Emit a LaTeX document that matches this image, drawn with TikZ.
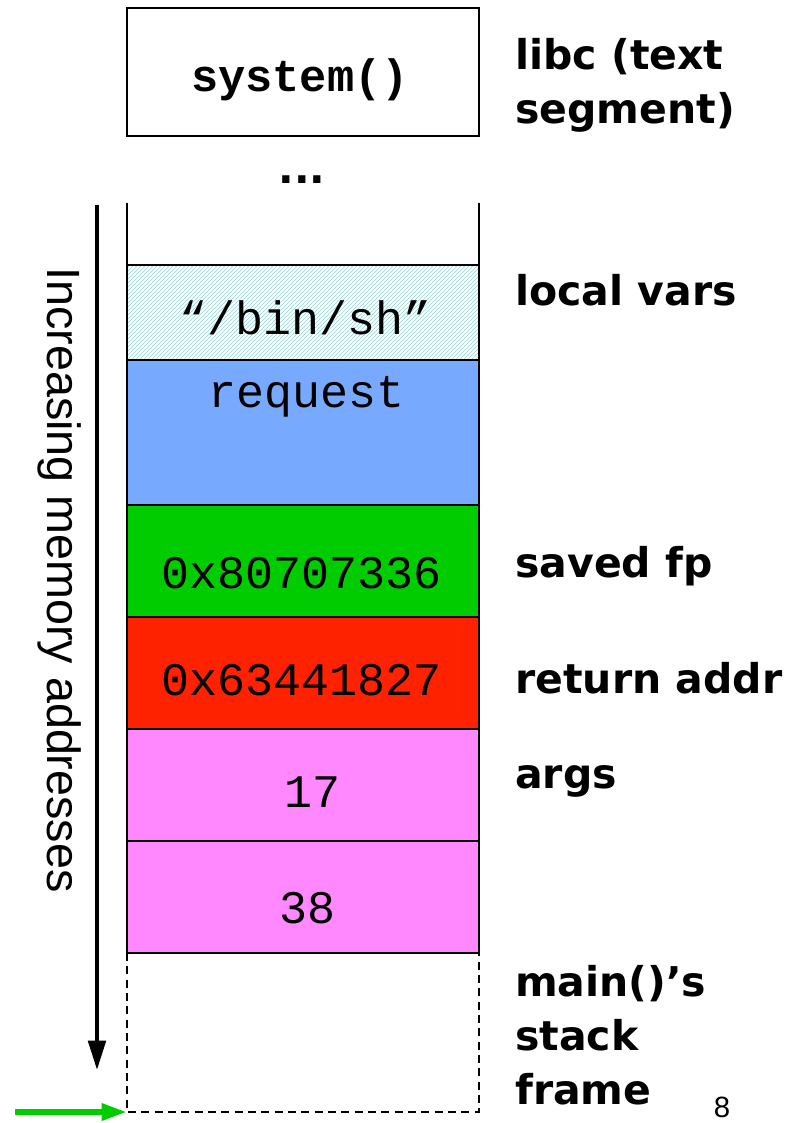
\documentclass[tikz,border=0pt]{standalone}
\usepackage{fontspec}
\setmainfont{Liberation Sans}
\setmonofont{Liberation Mono}
\newfontfamily\labfont{DejaVu Sans}
\usetikzlibrary{arrows.meta,patterns}
\definecolor{reqblue}{RGB}{119,170,255}
\definecolor{fpgreen}{RGB}{0,204,0}
\definecolor{retred}{RGB}{255,34,0}
\definecolor{argpink}{RGB}{255,136,255}
\definecolor{hatchc}{RGB}{150,212,212}
\definecolor{arrgreen}{RGB}{0,204,0}
\begin{document}
\begin{tikzpicture}[x=0.75pt,y=-0.75pt,
  cellline/.style={draw=black,line width=1.5pt},
  monotxt/.style={font=\fontsize{35}{40}\selectfont\ttfamily,inner sep=0pt},
  labtxt/.style={font=\fontsize{30.75}{40.5}\selectfont\labfont\bfseries,anchor=west,align=left,inner sep=0pt},
  bigarrow/.style={line width=3pt,-{Triangle[length=22pt,width=13pt]}}]
\useasboundingbox (0,0) rectangle (810,1123);
% libc box
\draw[cellline] (127,8) rectangle (479,136);
\node[font=\fontsize{34}{40}\selectfont\ttfamily\bfseries,inner sep=0pt] (sys) at (300,80) {system()};
\node[font=\fontsize{30.75}{40}\selectfont\labfont\bfseries,inner sep=0pt] (dots) at (302,180) {...};
% stack cells
\fill[white] (127,265) rectangle (479,360);
\fill[pattern=north east lines,pattern color=hatchc] (127,265) rectangle (479,360);
\draw[cellline] (127,265) rectangle (479,360);
\draw[cellline,fill=reqblue] (127,360) rectangle (479,505);
\draw[cellline,fill=fpgreen] (127,505) rectangle (479,617);
\draw[cellline,fill=retred] (127,617) rectangle (479,729);
\draw[cellline,fill=argpink] (127,729) rectangle (479,841);
\draw[cellline,fill=argpink] (127,841) rectangle (479,953);
% open top walls
\draw[cellline] (127,203) -- (127,265);
\draw[cellline] (479,203) -- (479,265);
% dashed frame of main
\draw[line width=1.5pt,dash pattern=on 6pt off 4pt] (127,953) -- (127,1112) -- (479,1112) -- (479,953);
\coordinate (framecorner) at (127,1112);
% cell texts
\node[monotxt] (binsh) at (306,318) {“/bin/sh”};
\node[monotxt] (req) at (307,397) {request};
\node[monotxt] (sfp) at (302,573) {0x80707336};
\node[monotxt] (ret) at (302,680) {0x63441827};
\node[monotxt] (a17) at (312,792) {17};
\node[monotxt] (a38) at (307,908) {38};
% labels
\node[labtxt] (libc) at (515,85) {libc (text\\segment)};
\node[labtxt] (locv) at (515,290) {local vars};
\node[labtxt] (savfp) at (515,566) {saved fp};
\node[labtxt] (retad) at (515,678) {return addr};
\node[labtxt] (args) at (515,781) {args};
\node[labtxt] (mainf) at (515,1035) {main()’s\\stack\\frame};
\node[font=\fontsize{22}{24}\selectfont,anchor=north,inner sep=0pt] (pg) at (722,1097) {8};
% memory arrow
\coordinate (ma) at (97,205);
\coordinate (mb) at (97,1070);
\draw[bigarrow] (ma) -- (mb);
\node[rotate=-90,font=\fontsize{35}{40}\selectfont,inner sep=0pt] (incr) at (60,580) {Increasing memory addresses};
% green pointer arrow
\coordinate (gp) at (15,1112);
\draw[arrgreen,line width=4.5pt,-{Triangle[length=19pt,width=12pt]}] (gp) -- (framecorner);
\end{tikzpicture}
\end{document}
